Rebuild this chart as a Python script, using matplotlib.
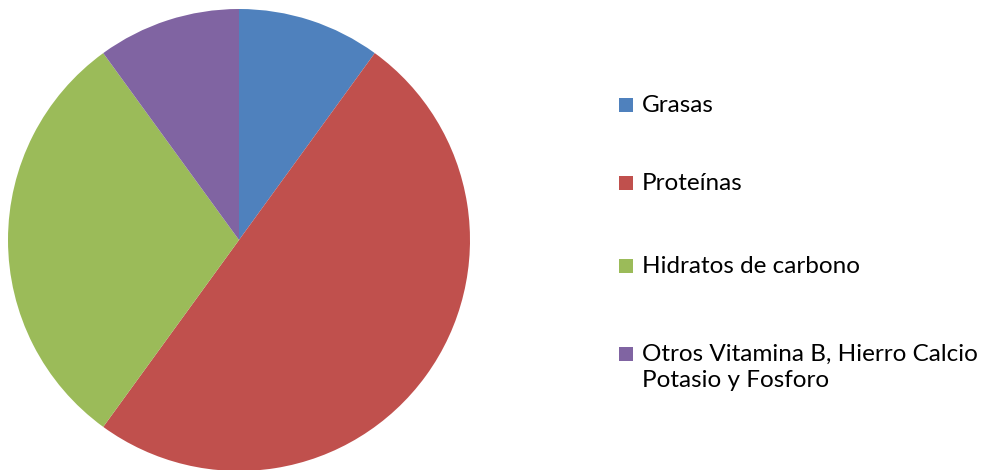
import matplotlib
matplotlib.use("Agg")
import matplotlib.pyplot as plt
from matplotlib.patches import Rectangle

# data (percent)
labels = ["Grasas", "Proteínas", "Hidratos de carbono",
          "Otros Vitamina B, Hierro Calcio\nPotasio y Fosforo"]
values = [10, 50, 30, 10]
colors = ["#4F81BD", "#C0504D", "#9BBB59", "#8064A2"]

plt.rcParams['font.family'] = ['Lato', 'DejaVu Sans']

W, H = 984, 470
fig = plt.figure(figsize=(W / 100, H / 100), dpi=100)
ax = fig.add_axes([8 / W, -1 / H, 462 / W, 462 / H])
ax.pie(values, colors=colors, startangle=90, counterclock=False, radius=1,
       wedgeprops=dict(linewidth=0))
ax.set_xlim(-1, 1)
ax.set_ylim(-1, 1)
ax.set_aspect("equal")
ax.axis("off")

# legend, laid out by hand like the Excel one (baselines in pixels from top)
baselines = [112, 190, 273, 361]
line_gap = 26
for lab, col, b in zip(labels, colors, baselines):
    fig.patches.append(Rectangle((619 / W, 1 - b / H), 14 / W, 14.5 / H,
                                 facecolor=col, edgecolor="none",
                                 transform=fig.transFigure, figure=fig))
    for k, line in enumerate(lab.split("\n")):
        fig.text(642 / W, 1 - (b + k * line_gap) / H, line, fontsize=17.5,
                 color="black", va="baseline", ha="left")

fig.savefig("out.png", dpi=100)
